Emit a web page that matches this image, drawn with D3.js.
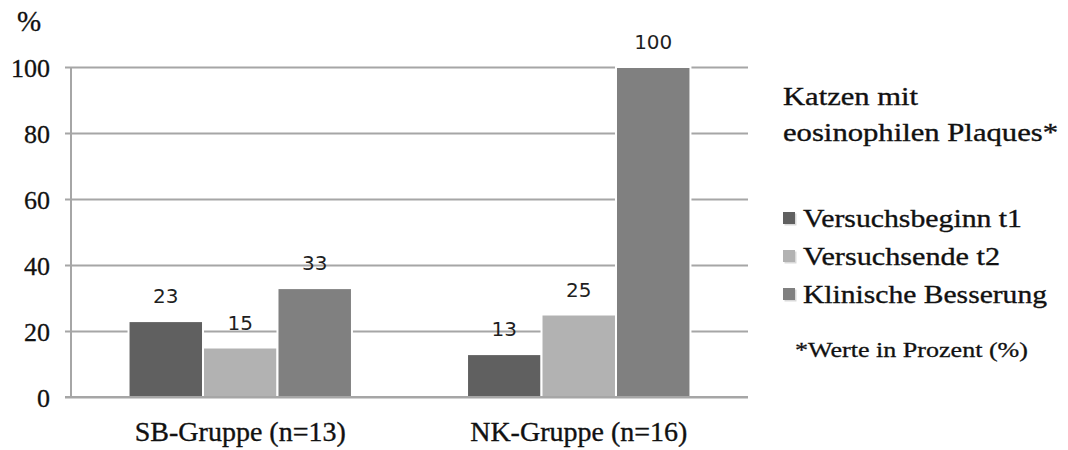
<!DOCTYPE html>
<html>
<head>
<meta charset="utf-8">
<script src="https://cdn.jsdelivr.net/npm/d3@7"></script>
<style>
  html, body { margin: 0; padding: 0; background: #fff; }
  svg { display: block; }
</style>
</head>
<body>
<svg id="chart" width="1068" height="450"></svg>
<script>
// Gruppen, Zeitpunkte und Werte (in %)
const groups = ["SB-Gruppe (n=13)", "NK-Gruppe (n=16)"];
const seriesNames = ["Versuchsbeginn t1", "Versuchsende t2", "Klinische Besserung"];
const seriesColors = ["#606060", "#b2b2b2", "#808080"];
const valuesT1 = [23, 13];
const valuesT2 = [15, 25];
const valuesBesserung = [33, 100];
const yTicks = [0, 20, 40, 60, 80, 100];

const seriesValues = [valuesT1, valuesT2, valuesBesserung];
const rows = [];
groups.forEach((g, gi) => {
  seriesNames.forEach((s, si) => {
    rows.push({ group: g, series: s, value: seriesValues[si][gi], color: seriesColors[si] });
  });
});

const svg = d3.select("#chart");
const serif = "'Liberation Serif', 'Times New Roman', serif";
const sans = "'DejaVu Sans', Verdana, sans-serif";
const ink = "#111111";

const plot = { left: 71, right: 748, top: 67, bottom: 397 };

const x0 = d3.scaleBand()
  .domain(groups)
  .range([plot.left, plot.right])
  .paddingInner(0.34)
  .paddingOuter(0.17);

const x1 = d3.scaleBand()
  .domain(seriesNames)
  .range([0, x0.bandwidth()]);

const y = d3.scaleLinear()
  .domain([0, 100])
  .range([plot.bottom, plot.top]);

// serif text drawn slightly heavier
function heavy(sel, w) {
  sel.attr("fill", ink).attr("stroke", ink).attr("stroke-width", w || 0.35);
}

// Gitterlinien und y-Achse
const yAxis = d3.axisLeft(y)
  .tickValues(yTicks)
  .tickSize(-(plot.right - plot.left))
  .tickSizeOuter(0)
  .tickPadding(0)
  .tickFormat(d3.format("d"));

const yg = svg.append("g")
  .attr("transform", `translate(${plot.left},0)`)
  .call(yAxis);
yg.select(".domain").remove();
yg.selectAll(".tick line")
  .attr("x1", -6)
  .attr("stroke", "#a6a6a6")
  .attr("stroke-width", 2);
yg.selectAll(".tick text")
  .attr("x", -21)
  .attr("dy", "0.36em")
  .style("font-family", serif)
  .style("font-size", "26px")
  .call(heavy, 0.3);

svg.append("line")
  .attr("x1", plot.left).attr("x2", plot.left)
  .attr("y1", plot.top).attr("y2", plot.bottom)
  .attr("stroke", "#a6a6a6")
  .attr("stroke-width", 2);

// Balken
const barGroups = svg.append("g")
  .selectAll("g")
  .data(rows)
  .join("g")
  .attr("transform", d => `translate(${x0(d.group) + x1(d.series)},0)`);

barGroups.append("rect")
  .attr("x", 0)
  .attr("width", x1.bandwidth())
  .attr("y", d => y(d.value))
  .attr("height", d => y(0) - y(d.value))
  .attr("fill", d => d.color)
  .attr("stroke", "#ffffff")
  .attr("stroke-width", 2);

// Wertebeschriftungen
barGroups.append("text")
  .attr("x", x1.bandwidth() / 2)
  .attr("y", d => y(d.value) - 18)
  .attr("text-anchor", "middle")
  .attr("fill", "#1f1f1f")
  .style("font-family", sans)
  .style("font-size", "20px")
  .text(d => d.value);

// x-Achse Kategorien
const xAxis = d3.axisBottom(x0).tickSize(0).tickPadding(0);
const xg = svg.append("g")
  .attr("transform", `translate(0,${plot.bottom})`)
  .call(xAxis);
xg.select(".domain").remove();
xg.selectAll(".tick text")
  .attr("y", 44)
  .attr("dy", 0)
  .style("font-family", serif)
  .style("font-size", "28px")
  .call(heavy, 0.35);

// Grundlinie
svg.append("line")
  .attr("x1", plot.left - 6).attr("x2", plot.right)
  .attr("y1", y(0)).attr("y2", y(0))
  .attr("stroke", "#a6a6a6")
  .attr("stroke-width", 2);

// Einheit der y-Achse
svg.append("text")
  .attr("x", 17).attr("y", 31)
  .style("font-family", serif)
  .style("font-size", "29px")
  .text("%")
  .call(heavy, 0.3);

// Legende
const legendTitle = ["Katzen mit", "eosinophilen Plaques*"];
const titleWidths = [135, 275];
svg.append("g").selectAll("text")
  .data(legendTitle)
  .join("text")
  .attr("x", 783)
  .attr("y", (d, i) => 105 + i * 36)
  .attr("textLength", (d, i) => titleWidths[i])
  .attr("lengthAdjust", "spacingAndGlyphs")
  .style("font-family", serif)
  .style("font-size", "25px")
  .text(d => d)
  .call(heavy, 0.35);

const legendWidths = [219, 197, 244];
const legend = svg.append("g").selectAll("g")
  .data(seriesNames)
  .join("g")
  .attr("transform", (d, i) => `translate(783,${218 + i * 38})`);

legend.append("rect")
  .attr("x", 1.5).attr("y", -4.5)
  .attr("width", 12).attr("height", 12)
  .attr("fill", "#d9d9d9");
legend.append("rect")
  .attr("x", 0).attr("y", -6)
  .attr("width", 12).attr("height", 12)
  .attr("fill", (d, i) => seriesColors[i]);
legend.append("text")
  .attr("x", 20)
  .attr("y", 9)
  .attr("textLength", (d, i) => legendWidths[i])
  .attr("lengthAdjust", "spacingAndGlyphs")
  .style("font-family", serif)
  .style("font-size", "26px")
  .text(d => d)
  .call(heavy, 0.35);

svg.append("text")
  .attr("x", 795).attr("y", 357)
  .attr("textLength", 233)
  .attr("lengthAdjust", "spacingAndGlyphs")
  .style("font-family", serif)
  .style("font-size", "22px")
  .text("*Werte in Prozent (%)")
  .call(heavy, 0.3);
</script>
</body>
</html>
